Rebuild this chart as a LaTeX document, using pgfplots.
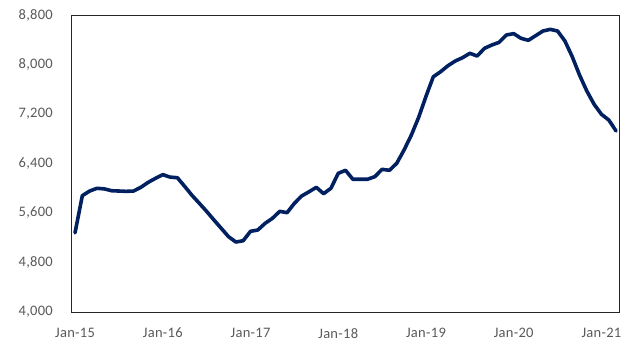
\documentclass[border=0pt]{standalone}
\usepackage{fontspec}
\usepackage{pgfplots}
\pgfplotsset{compat=1.18}
\newfontfamily\lab[LetterSpace=2]{Carlito}
\definecolor{navy}{RGB}{0,32,96}
\definecolor{labgray}{RGB}{89,89,89}
\begin{document}
\begin{tikzpicture}
\begin{axis}[
  scale only axis,
  width=548bp, height=297bp,
  xmin=-0.55, xmax=74.4,
  ymin=4000, ymax=8800,
  xtick={0,12,24,36,48,60,72},
  xticklabels={Jan-15,Jan-16,Jan-17,Jan-18,Jan-19,Jan-20,Jan-21},
  ytick={4000,4800,5600,6400,7200,8000,8800},
  yticklabels={{4,000},{4,800},{5,600},{6,400},{7,200},{8,000},{8,800}},
  major tick length=0pt,
  axis line style={draw=black!85, line width=0.9bp},
  every tick label/.append style={font=\lab\fontsize{14.5bp}{17bp}\selectfont, text=labgray, inner sep=0pt},
  xticklabel style={anchor=north, yshift=-16bp},
  yticklabel style={anchor=east, xshift=-18bp},
  clip=false,
]
\addplot[navy, line width=3.6bp, line join=round, line cap=round, mark=none] coordinates {
(0,5280) (1,5880) (2,5955) (3,5999) (4,5990) (5,5960) (6,5955) (7,5950) (8,5955) (9,6015)
(10,6095) (11,6160) (12,6220) (13,6180) (14,6170) (15,6030) (16,5885) (17,5757) (18,5626) (19,5487)
(20,5352) (21,5217) (22,5131) (23,5152) (24,5304) (25,5325) (26,5433) (27,5514) (28,5627) (29,5605)
(30,5756) (31,5875) (32,5943) (33,6015) (34,5912) (35,6000) (36,6241) (37,6290) (38,6145) (39,6145)
(40,6145) (41,6187) (42,6306) (43,6290) (44,6403) (45,6618) (46,6860) (47,7146) (48,7485) (49,7802)
(50,7883) (51,7980) (52,8056) (53,8110) (54,8181) (55,8137) (56,8261) (57,8315) (58,8358) (59,8477)
(60,8499) (61,8423) (62,8391) (63,8466) (64,8541) (65,8568) (66,8541) (67,8380) (68,8127) (69,7830)
(70,7571) (71,7356) (72,7195) (73,7103) (74,6925)
};
\end{axis}
\path (current axis.south west) ++(-71bp,-31bp) (current axis.north east) ++(13bp,15bp);
\end{tikzpicture}
\end{document}
